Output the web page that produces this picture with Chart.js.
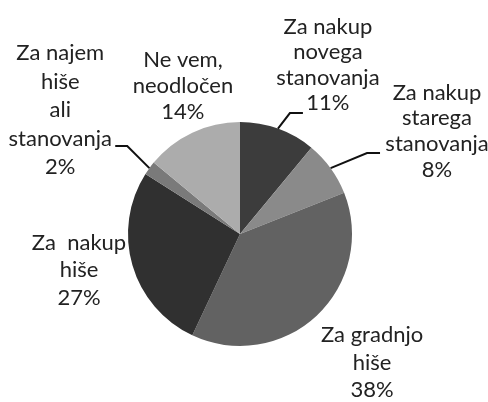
<!DOCTYPE html>
<html>
<head>
<meta charset="utf-8">
<script src="https://cdn.jsdelivr.net/npm/chart.js@4.4.1/dist/chart.umd.min.js"></script>
<style>
html,body{margin:0;padding:0;background:#fff;}
#wrap{width:488px;height:402px;}
</style>
</head>
<body>
<div id="wrap"><canvas id="pie" width="488" height="402"></canvas></div>
<script>
// data
const categories = [
  ["Za nakup","novega","stanovanja"],
  ["Za nakup","starega","stanovanja"],
  ["Za gradnjo","hiše"],
  ["Za  nakup","hiše"],
  ["Za najem","hiše","ali","stanovanja"],
  ["Ne vem,","neodločen"]
]
const values = [11, 8, 38, 27, 2, 14]
const colors = ["#3c3c3c","#8a8a8a","#626262","#303030","#7a7a7a","#acacac"]

// label placement: distance in radii, angle shift in degrees from slice middle, line height
const labelDist  = [1.70, 1.985, 1.645, 1.473, 1.95, 1.416]
const labelShift = [7.7, 8.4, -2.6, 3.6, -1.4, 4.1]
const labelLine  = [25.5, 25.7, 27.5, 27.5, 28.5, 26]
// leader lines, relative to label centre: [elbowX, elbowY, endX, endY]
const leaders = [
  [-38, 48, -25, 48],
  [-70, 22, -57, 22],
  null,
  null,
  [67, 36, 55, 36],
  null
]

const pieLabels = {
  id: "pieLabels",
  afterDatasetsDraw(chart){
    const ctx = chart.ctx
    const arcs = chart.getDatasetMeta(0).data
    ctx.save()
    ctx.font = "22px Lato"
    ctx.fillStyle = "#222"
    ctx.textAlign = "center"
    ctx.textBaseline = "middle"
    arcs.forEach((arc, i) => {
      const p = arc.getProps(["x","y","startAngle","endAngle","outerRadius"], true)
      const mid = (p.startAngle + p.endAngle) / 2
      const a = mid + labelShift[i] * Math.PI / 180
      const lx = p.x + Math.cos(a) * p.outerRadius * labelDist[i]
      const ly = p.y + Math.sin(a) * p.outerRadius * labelDist[i]
      const lines = categories[i].concat([values[i] + "%"])
      const lh = labelLine[i]
      const top = ly - (lines.length - 1) * lh / 2
      lines.forEach((t, k) => ctx.fillText(t, lx, top + k * lh))

      const ld = leaders[i]
      if(ld){
        ctx.beginPath()
        ctx.strokeStyle = "#111"
        ctx.lineWidth = 2
        ctx.moveTo(p.x + Math.cos(mid) * p.outerRadius, p.y + Math.sin(mid) * p.outerRadius)
        ctx.lineTo(lx + ld[0], ly + ld[1])
        ctx.lineTo(lx + ld[2], ly + ld[3])
        ctx.stroke()
      }
    })
    ctx.restore()
  }
}

new Chart(document.getElementById("pie"),{
  type:"pie",
  data:{
    labels: categories.map(c => c.join(" ")),
    datasets:[{
      data: values,
      backgroundColor: colors,
      borderWidth: 0
    }]
  },
  options:{
    responsive:false,
    animation:false,
    layout:{padding:{left:128, right:136, top:122, bottom:56}},
    plugins:{legend:{display:false}, tooltip:{enabled:false}}
  },
  plugins:[pieLabels]
})
</script>
</body>
</html>
